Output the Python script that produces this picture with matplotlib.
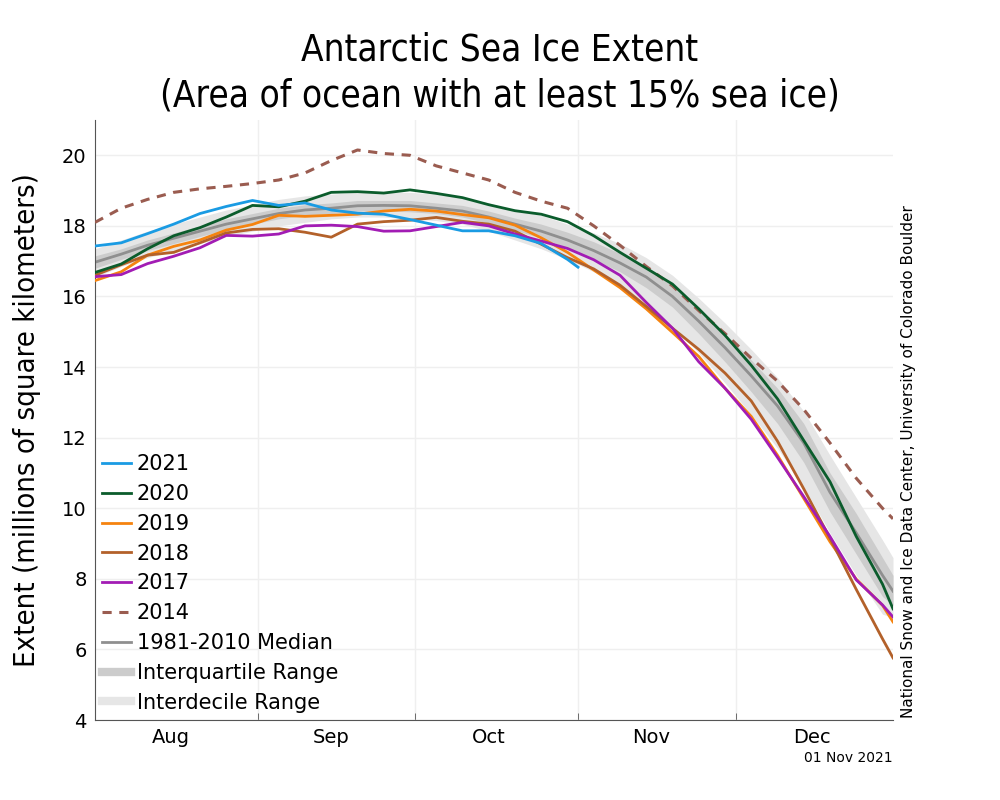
import numpy as np
import matplotlib.pyplot as plt

# day of year, Aug 1 = 213 (every 5 days, last point Dec 31)
doy = [213, 218, 223, 228, 233, 238, 243, 248, 253, 258, 263, 268, 273, 278, 283, 288,
       293, 298, 303, 308, 313, 318, 323, 328, 333, 338, 343, 348, 353, 358, 363, 365]

ext_2021 = [17.43, 17.52, 17.78, 18.05, 18.35, 18.55, 18.72, 18.58, 18.65, 18.45, 18.36,
            18.33, 18.18, 18.02, 17.86, 17.86, 17.72, 17.5, 17.05]
doy_2021 = doy[:19] + [305]
ext_2021 = ext_2021 + [16.83]

ext_2020 = [16.68, 16.92, 17.35, 17.72, 17.95, 18.25, 18.58, 18.54, 18.7, 18.95, 18.97, 18.93,
            19.02, 18.92, 18.8, 18.6, 18.43, 18.33, 18.12, 17.72, 17.25, 16.8, 16.35, 15.65,
            14.9, 14.05, 13.1, 11.92, 10.75, 9.2, 7.85, 7.15]
ext_2019 = [16.45, 16.7, 17.17, 17.42, 17.6, 17.88, 18.04, 18.3, 18.27, 18.3, 18.33, 18.42,
            18.47, 18.42, 18.32, 18.23, 18.02, 17.66, 17.25, 16.75, 16.25, 15.65, 14.98, 14.3,
            13.4, 12.6, 11.5, 10.28, 9.05, 7.99, 7.25, 6.78]
ext_2018 = [16.6, 16.9, 17.17, 17.25, 17.52, 17.8, 17.9, 17.92, 17.82, 17.68, 18.05, 18.12,
            18.16, 18.24, 18.13, 18.05, 17.85, 17.48, 17.1, 16.78, 16.32, 15.72, 15.1, 14.5,
            13.83, 13.04, 11.9, 10.55, 9.15, 7.7, 6.3, 5.76]
ext_2017 = [16.56, 16.62, 16.93, 17.14, 17.38, 17.73, 17.71, 17.77, 18.0, 18.02, 17.98, 17.85,
            17.86, 17.98, 18.1, 18.0, 17.77, 17.57, 17.36, 17.04, 16.6, 15.83, 15.1, 14.15,
            13.4, 12.52, 11.44, 10.33, 9.2, 7.97, 7.26, 6.92]
ext_2014 = [18.1, 18.5, 18.75, 18.95, 19.05, 19.12, 19.2, 19.3, 19.5, 19.85, 20.15, 20.05,
            20.0, 19.7, 19.5, 19.3, 18.95, 18.7, 18.5, 18.0, 17.45, 16.85, 16.3, 15.6,
            14.95, 14.25, 13.6, 12.8, 11.85, 10.85, 10.0, 9.7]
median = [16.97, 17.2, 17.45, 17.65, 17.85, 18.05, 18.2, 18.35, 18.45, 18.5, 18.57, 18.58,
          18.57, 18.5, 18.42, 18.25, 18.05, 17.85, 17.6, 17.3, 16.95, 16.55, 16.0, 15.3,
          14.55, 13.75, 12.9, 11.85, 10.45, 9.3, 8.1, 7.65]
iqr_lo = [16.8, 17.05, 17.3, 17.5, 17.7, 17.9, 18.05, 18.2, 18.3, 18.35, 18.42, 18.42,
          18.4, 18.35, 18.25, 18.08, 17.88, 17.65, 17.38, 17.05, 16.7, 16.25, 15.7, 14.95,
          14.15, 13.3, 12.4, 11.3, 9.9, 8.7, 7.5, 7.25]
iqr_hi = [17.15, 17.35, 17.6, 17.8, 18.0, 18.2, 18.35, 18.5, 18.6, 18.65, 18.72, 18.72,
          18.72, 18.65, 18.58, 18.42, 18.22, 18.05, 17.82, 17.55, 17.22, 16.85, 16.35, 15.65,
          14.95, 14.2, 13.4, 12.4, 11.0, 9.85, 8.6, 8.1]
idr_lo = [16.55, 16.85, 17.1, 17.3, 17.5, 17.7, 17.85, 18.0, 18.1, 18.2, 18.25, 18.25,
          18.2, 18.15, 18.05, 17.85, 17.6, 17.35, 17.05, 16.7, 16.3, 15.8, 15.15, 14.4,
          13.55, 12.65, 11.7, 10.6, 9.3, 8.1, 7.0, 6.9]
idr_hi = [17.35, 17.6, 17.85, 18.05, 18.25, 18.45, 18.6, 18.75, 18.85, 18.9, 18.95, 18.95,
          18.95, 18.9, 18.8, 18.65, 18.45, 18.3, 18.05, 17.8, 17.5, 17.1, 16.6, 15.95,
          15.25, 14.5, 13.7, 12.75, 11.5, 10.3, 9.1, 8.6]

month_starts = [213, 244, 274, 305, 335]
month_mids = [227.5, 258, 288, 319, 349.5]
month_names = ['Aug', 'Sep', 'Oct', 'Nov', 'Dec']

fig = plt.figure(figsize=(10, 8), dpi=100)
ax = fig.add_axes([0.095, 0.1, 0.798, 0.75])

ax.fill_between(doy, idr_lo, idr_hi, color='#e6e6e6', lw=0)
ax.fill_between(doy, iqr_lo, iqr_hi, color='#cccccc', lw=0)

ax.plot(doy_2021, ext_2021, color='#1a9be3', lw=2, label='2021', zorder=5)
ax.plot(doy, ext_2020, color='#0b5c2c', lw=2, label='2020', zorder=4)
ax.plot(doy, ext_2019, color='#f5830f', lw=2, label='2019', zorder=3)
ax.plot(doy, ext_2018, color='#b3612a', lw=2, label='2018', zorder=3)
ax.plot(doy, ext_2017, color='#a21cb4', lw=2, label='2017', zorder=3)
ax.plot(doy, ext_2014, color='#9a5c50', lw=2.2, ls=(0, (3, 2.5)), label='2014', zorder=3)
ax.plot(doy, median, color='#8f8f8f', lw=2, label='1981-2010 Median', zorder=2)
# legend proxies for the ranges
ax.plot([], [], color='#cccccc', lw=6, label='Interquartile Range')
ax.plot([], [], color='#e6e6e6', lw=6, label='Interdecile Range')

ax.set_xlim(213, 365)
ax.set_ylim(4, 21)
ax.set_yticks(range(4, 21, 2))
ax.set_xticks(month_mids)
ax.set_xticklabels(month_names)
ax.set_xticks(month_starts[1:], minor=True)
ax.tick_params(axis='x', which='major', length=0, labelsize=14, pad=6)
ax.tick_params(axis='x', which='minor', direction='in', length=5, color='#555555')
ax.tick_params(axis='y', direction='in', length=0, labelsize=14, pad=6)
ax.grid(True, axis='y', color='#efefef', lw=1)
ax.grid(True, axis='x', which='minor', color='#efefef', lw=1)
ax.set_axisbelow(True)
for s in ['top', 'right']:
    ax.spines[s].set_visible(False)
for s in ['left', 'bottom']:
    ax.spines[s].set_color('#555555')

ax.set_ylabel('Extent (millions of square kilometers)', fontsize=21, fontstretch='condensed',
              labelpad=15)
fig.text(0.5, 0.909, 'Antarctic Sea Ice Extent\n(Area of ocean with at least 15% sea ice)',
         ha='center', va='center', fontsize=26.5, fontstretch='condensed', linespacing=1.33)

leg = ax.legend(loc='lower left', bbox_to_anchor=(-0.009, -0.012), frameon=False, fontsize=15,
                handlelength=1.35, handletextpad=0.3, labelspacing=0.47, borderaxespad=0.3)

fig.text(0.909, 0.103, 'National Snow and Ice Data Center, University of Colorado Boulder',
         rotation=90, ha='center', va='bottom', fontsize=11)
fig.text(0.893, 0.052, '01 Nov 2021', ha='right', va='center', fontsize=10)

fig.savefig('out.png', dpi=100)
